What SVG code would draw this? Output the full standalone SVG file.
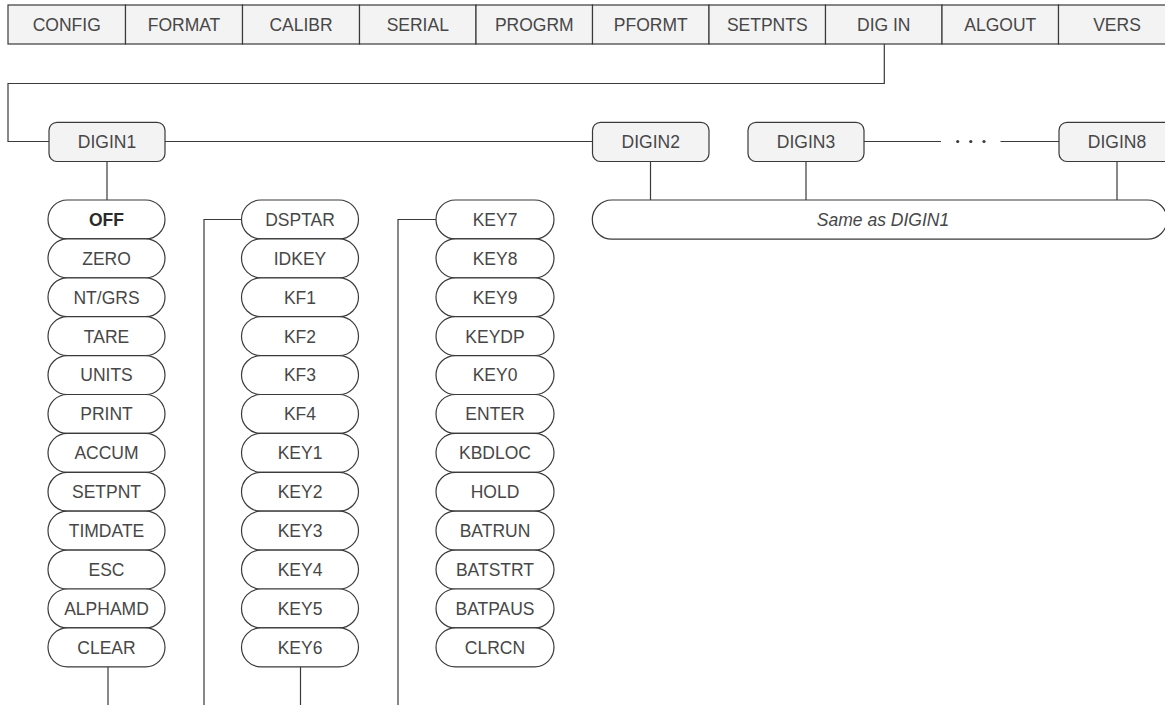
<svg xmlns="http://www.w3.org/2000/svg" width="1165" height="705" viewBox="0 0 1165 705">
<style>
text{font-family:"Liberation Sans",Arial,sans-serif;font-size:17.5px;fill:#474747;text-anchor:middle}
.cell{fill:#f3f3f3;stroke:#3a3a3a;stroke-width:1.2}
.box{fill:#f3f3f3;stroke:#3a3a3a;stroke-width:1.2}
.cap{fill:#fff;stroke:#3a3a3a;stroke-width:1.2}
.ln{fill:none;stroke:#3a3a3a;stroke-width:1.2}
.b{font-weight:bold;fill:#2a2a2a}
.i{font-style:italic}
</style>
<g id="menu">
<rect class="cell" x="8" y="5" width="117.5" height="39"/><text x="66.75" y="30.8">CONFIG</text>
<rect class="cell" x="125.5" y="5" width="117" height="39"/><text x="184" y="30.8">FORMAT</text>
<rect class="cell" x="242.5" y="5" width="117" height="39"/><text x="301" y="30.8">CALIBR</text>
<rect class="cell" x="359.5" y="5" width="116.5" height="39"/><text x="417.75" y="30.8">SERIAL</text>
<rect class="cell" x="476" y="5" width="116.5" height="39"/><text x="534.25" y="30.8">PROGRM</text>
<rect class="cell" x="592.5" y="5" width="116.5" height="39"/><text x="650.75" y="30.8">PFORMT</text>
<rect class="cell" x="709" y="5" width="116.5" height="39"/><text x="767.25" y="30.8">SETPNTS</text>
<rect class="cell" x="825.5" y="5" width="116.5" height="39"/><text x="883.75" y="30.8">DIG IN</text>
<rect class="cell" x="942" y="5" width="116.5" height="39"/><text x="1000.25" y="30.8">ALGOUT</text>
<rect class="cell" x="1058.5" y="5" width="117" height="39"/><text x="1117" y="30.8">VERS</text>
</g>
<g id="connectors">
<path class="ln" d="M884.3 44 V83.5 H8 V141.5 H49"/>
<path class="ln" d="M165 141.5 H592.5"/>
<path class="ln" d="M864 141.5 H941 M1000.5 141.5 H1059"/>
<path class="ln" d="M107 161.5 V200"/>
<path class="ln" d="M650.5 161.5 V200 M806 161.5 V200 M1117 161.5 V200"/>
<path class="ln" d="M108 666.8 V705"/>
<path class="ln" d="M241.5 219.5 H204 V705"/>
<path class="ln" d="M300.5 666.8 V705"/>
<path class="ln" d="M436 219.5 H398 V705"/>
</g>
<g id="dots" fill="#3a3a3a">
<circle cx="957.7" cy="141.5" r="1.6"/><circle cx="970.8" cy="141.5" r="1.6"/><circle cx="984" cy="141.5" r="1.6"/>
</g>
<g id="digin1"><rect class="box" x="49" y="122.3" width="116" height="39.2" rx="8"/><text x="107" y="148">DIGIN1</text></g>
<g id="digin2"><rect class="box" x="592.5" y="122.3" width="116.5" height="39.2" rx="8"/><text x="650.75" y="148">DIGIN2</text></g>
<g id="digin3"><rect class="box" x="748" y="122.3" width="116" height="39.2" rx="8"/><text x="806" y="148">DIGIN3</text></g>
<g id="digin8"><rect class="box" x="1059" y="122.3" width="116" height="39.2" rx="8"/><text x="1117" y="148">DIGIN8</text></g>
<g id="same"><rect class="cap" x="592.3" y="200" width="574.7" height="39.2" rx="19.6"/><text class="i" x="883" y="226">Same as DIGIN1</text></g>
<g id="col1">
<g id="n-off"><rect class="cap" x="48" y="200" width="117" height="38.9" rx="19.45"/><text class="b" x="106.5" y="225.8">OFF</text></g>
<g id="n-zero"><rect class="cap" x="48" y="238.9" width="117" height="38.9" rx="19.45"/><text x="106.5" y="264.7">ZERO</text></g>
<g id="n-ntgrs"><rect class="cap" x="48" y="277.8" width="117" height="38.9" rx="19.45"/><text x="106.5" y="303.6">NT/GRS</text></g>
<g id="n-tare"><rect class="cap" x="48" y="316.7" width="117" height="38.9" rx="19.45"/><text x="106.5" y="342.5">TARE</text></g>
<g id="n-units"><rect class="cap" x="48" y="355.6" width="117" height="38.9" rx="19.45"/><text x="106.5" y="381.4">UNITS</text></g>
<g id="n-print"><rect class="cap" x="48" y="394.5" width="117" height="38.9" rx="19.45"/><text x="106.5" y="420.3">PRINT</text></g>
<g id="n-accum"><rect class="cap" x="48" y="433.4" width="117" height="38.9" rx="19.45"/><text x="106.5" y="459.2">ACCUM</text></g>
<g id="n-setpnt"><rect class="cap" x="48" y="472.3" width="117" height="38.9" rx="19.45"/><text x="106.5" y="498.1">SETPNT</text></g>
<g id="n-timdate"><rect class="cap" x="48" y="511.2" width="117" height="38.9" rx="19.45"/><text x="106.5" y="537">TIMDATE</text></g>
<g id="n-esc"><rect class="cap" x="48" y="550.1" width="117" height="38.9" rx="19.45"/><text x="106.5" y="575.9">ESC</text></g>
<g id="n-alphamd"><rect class="cap" x="48" y="589" width="117" height="38.9" rx="19.45"/><text x="106.5" y="614.8">ALPHAMD</text></g>
<g id="n-clear"><rect class="cap" x="48" y="627.9" width="117" height="38.9" rx="19.45"/><text x="106.5" y="653.7">CLEAR</text></g>
</g>
<g id="col2">
<g id="n-dsptar"><rect class="cap" x="241.5" y="200" width="117" height="38.9" rx="19.45"/><text x="300" y="225.8">DSPTAR</text></g>
<g id="n-idkey"><rect class="cap" x="241.5" y="238.9" width="117" height="38.9" rx="19.45"/><text x="300" y="264.7">IDKEY</text></g>
<g id="n-kf1"><rect class="cap" x="241.5" y="277.8" width="117" height="38.9" rx="19.45"/><text x="300" y="303.6">KF1</text></g>
<g id="n-kf2"><rect class="cap" x="241.5" y="316.7" width="117" height="38.9" rx="19.45"/><text x="300" y="342.5">KF2</text></g>
<g id="n-kf3"><rect class="cap" x="241.5" y="355.6" width="117" height="38.9" rx="19.45"/><text x="300" y="381.4">KF3</text></g>
<g id="n-kf4"><rect class="cap" x="241.5" y="394.5" width="117" height="38.9" rx="19.45"/><text x="300" y="420.3">KF4</text></g>
<g id="n-key1"><rect class="cap" x="241.5" y="433.4" width="117" height="38.9" rx="19.45"/><text x="300" y="459.2">KEY1</text></g>
<g id="n-key2"><rect class="cap" x="241.5" y="472.3" width="117" height="38.9" rx="19.45"/><text x="300" y="498.1">KEY2</text></g>
<g id="n-key3"><rect class="cap" x="241.5" y="511.2" width="117" height="38.9" rx="19.45"/><text x="300" y="537">KEY3</text></g>
<g id="n-key4"><rect class="cap" x="241.5" y="550.1" width="117" height="38.9" rx="19.45"/><text x="300" y="575.9">KEY4</text></g>
<g id="n-key5"><rect class="cap" x="241.5" y="589" width="117" height="38.9" rx="19.45"/><text x="300" y="614.8">KEY5</text></g>
<g id="n-key6"><rect class="cap" x="241.5" y="627.9" width="117" height="38.9" rx="19.45"/><text x="300" y="653.7">KEY6</text></g>
</g>
<g id="col3">
<g id="n-key7"><rect class="cap" x="436" y="200" width="118" height="38.9" rx="19.45"/><text x="495" y="225.8">KEY7</text></g>
<g id="n-key8"><rect class="cap" x="436" y="238.9" width="118" height="38.9" rx="19.45"/><text x="495" y="264.7">KEY8</text></g>
<g id="n-key9"><rect class="cap" x="436" y="277.8" width="118" height="38.9" rx="19.45"/><text x="495" y="303.6">KEY9</text></g>
<g id="n-keydp"><rect class="cap" x="436" y="316.7" width="118" height="38.9" rx="19.45"/><text x="495" y="342.5">KEYDP</text></g>
<g id="n-key0"><rect class="cap" x="436" y="355.6" width="118" height="38.9" rx="19.45"/><text x="495" y="381.4">KEY0</text></g>
<g id="n-enter"><rect class="cap" x="436" y="394.5" width="118" height="38.9" rx="19.45"/><text x="495" y="420.3">ENTER</text></g>
<g id="n-kbdloc"><rect class="cap" x="436" y="433.4" width="118" height="38.9" rx="19.45"/><text x="495" y="459.2">KBDLOC</text></g>
<g id="n-hold"><rect class="cap" x="436" y="472.3" width="118" height="38.9" rx="19.45"/><text x="495" y="498.1">HOLD</text></g>
<g id="n-batrun"><rect class="cap" x="436" y="511.2" width="118" height="38.9" rx="19.45"/><text x="495" y="537">BATRUN</text></g>
<g id="n-batstrt"><rect class="cap" x="436" y="550.1" width="118" height="38.9" rx="19.45"/><text x="495" y="575.9">BATSTRT</text></g>
<g id="n-batpaus"><rect class="cap" x="436" y="589" width="118" height="38.9" rx="19.45"/><text x="495" y="614.8">BATPAUS</text></g>
<g id="n-clrcn"><rect class="cap" x="436" y="627.9" width="118" height="38.9" rx="19.45"/><text x="495" y="653.7">CLRCN</text></g>
</g>
</svg>
